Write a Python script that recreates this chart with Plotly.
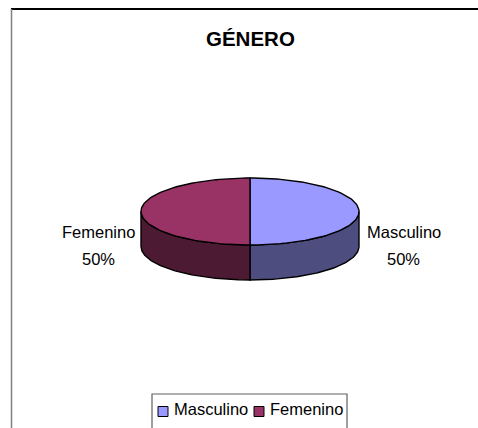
import numpy as np
import plotly.graph_objects as go

# Data
categories = ["Masculino", "Femenino"]
values = [50, 50]
top_colors = ["#9999FF", "#993366"]
side_colors = ["#4D4D80", "#4D1A33"]

# Pie geometry in page pixels
cx, cy = 250, 211.5
rx, ry = 109, 33.5
depth = 35


def arc(a0, a1, dy=0.0):
    # angles in degrees, clockwise from 12 o'clock
    t = np.radians(np.linspace(a0, a1, 90))
    return cx + rx * np.sin(t), cy - ry * np.cos(t) + dy


fig = go.Figure()

total = sum(values)
start = 0
tops = []
for name, val, top, side in zip(categories, values, top_colors, side_colors):
    end = start + 360 * val / total

    # side wall, only the part facing the viewer (90 to 270 degrees)
    a0, a1 = max(start, 90), min(end, 270)
    if a1 > a0:
        x1, y1 = arc(a0, a1)
        x2, y2 = arc(a1, a0, depth)
        fig.add_trace(go.Scatter(
            x=np.r_[x1, x2, x1[0]], y=np.r_[y1, y2, y1[0]],
            mode="lines", fill="toself", fillcolor=side,
            line=dict(color="black", width=1.4),
            showlegend=False, hoverinfo="skip"))

    x1, y1 = arc(start, end)
    tops.append(go.Scatter(
        x=np.r_[cx, x1, cx], y=np.r_[cy, y1, cy],
        mode="lines", fill="toself", fillcolor=top,
        line=dict(color="black", width=1.4),
        showlegend=False, name=name))
    start = end

fig.add_traces(tops)

# data labels, the two lines sit far apart so they are placed one by one
label_x = [403.5, 98]
for name, val, lx in zip(categories, values, label_x):
    fig.add_annotation(x=lx, y=232, text=name, showarrow=False,
                       font=dict(size=16.5))
    fig.add_annotation(x=lx, y=259, text=f"{val * 100 / total:.0f}%", showarrow=False,
                       font=dict(size=16.5))

fig.add_annotation(x=250, y=38, text="<b>GÉNERO</b>", showarrow=False,
                   font=dict(size=20.5))

# chart frame, open on the right and bottom
fig.add_shape(type="line", x0=11, x1=478, y0=9, y1=9,
              line=dict(color="black", width=2))
fig.add_shape(type="line", x0=11.5, x1=11.5, y0=9, y1=428,
              line=dict(color="#808080", width=1.5))

# legend box runs off the bottom of the page, entries drawn by hand
fig.add_shape(type="rect", x0=152, x1=347, y0=394, y1=440,
              line=dict(color="#606060", width=1.2))
swatch_x = [163, 259]
text_x = [171.5, 267.5]
for name, top, sx, tx in zip(categories, top_colors, swatch_x, text_x):
    fig.add_trace(go.Scatter(
        x=[sx], y=[411.5], mode="markers", name=name, showlegend=False,
        marker=dict(symbol="square", size=10, color=top,
                    line=dict(color="black", width=1))))
    fig.add_annotation(x=tx, y=409, text=name, showarrow=False, xanchor="left",
                       font=dict(size=16.5))

fig.update_layout(
    width=478, height=428,
    margin=dict(l=0, r=0, t=0, b=0),
    paper_bgcolor="white", plot_bgcolor="white",
    font=dict(family="Liberation Sans, Arial, sans-serif", color="black"),
    xaxis=dict(range=[0, 478], visible=False, fixedrange=True),
    yaxis=dict(range=[428, 0], visible=False, fixedrange=True),
    showlegend=False,
)

# the page's default body margin would push the chart 8px in
fig.write_html("out.html", config=dict(displayModeBar=False),
               post_script="document.body.style.margin='0';")
